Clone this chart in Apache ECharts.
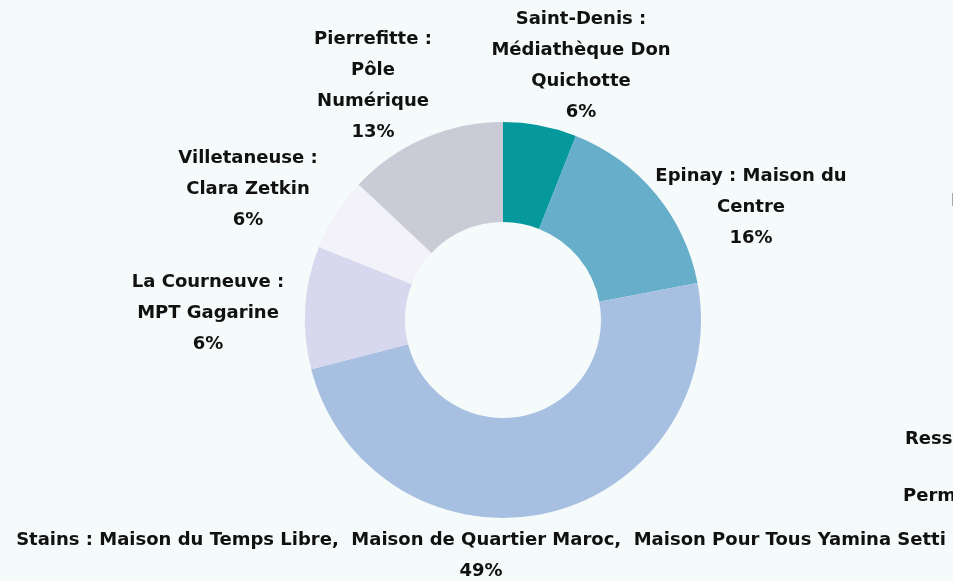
<!DOCTYPE html>
<html><head><meta charset="utf-8">
<script src="https://cdn.jsdelivr.net/npm/echarts@6/dist/echarts.min.js"></script>
<style>html,body{margin:0;padding:0;background:#f5fafa;}#c{width:953px;height:581px;}</style>
</head><body><div id="c"></div>
<script>
const categories = [
  "Saint-Denis :\nMédiathèque Don\nQuichotte",
  "Epinay : Maison du\nCentre",
  "Stains : Maison du Temps Libre,  Maison de Quartier Maroc,  Maison Pour Tous Yamina Setti",
  "La Courneuve :\nMPT Gagarine",
  "Villetaneuse :\nClara Zetkin",
  "Pierrefitte :\nPôle\nNumérique"
];
const values = [6, 16, 49, 10, 6, 13];
const percentLabels = ["6%", "16%", "49%", "6%", "6%", "13%"];
const clippedLabels = ["M", "Ressources", "Permanences"];

const colors = ["#05989d", "#66aec9", "#a7c0e1", "#d7d7ee", "#f4f2f9", "#c9ccd6"];
// label block centres (layout, px)
const labelPos = [[581, 66], [751, 207], [481, 556], [208, 313], [248, 189], [373, 86]];
const FONT = 'DejaVu Sans';

const chart = echarts.init(document.getElementById('c'));
chart.setOption({
  backgroundColor: '#f5fafa',
  animation: false,
  graphic: [
    { type: 'text', left: 951, top: 192, style: { text: clippedLabels[0], font: 'bold 18px ' + FONT, fill: '#111' } },
    { type: 'text', left: 905, top: 430, style: { text: clippedLabels[1], font: 'bold 18px ' + FONT, fill: '#111' } },
    { type: 'text', left: 903, top: 487, style: { text: clippedLabels[2], font: 'bold 18px ' + FONT, fill: '#111' } }
  ],
  series: [{
    type: 'pie',
    center: [503, 320],
    radius: [98, 198],
    startAngle: 90,
    clockwise: true,
    avoidLabelOverlap: false,
    data: categories.map((n, i) => ({ name: n, value: values[i], itemStyle: { color: colors[i] } })),
    label: {
      show: true,
      position: 'outside',
      formatter: p => p.name + '\n' + percentLabels[p.dataIndex],
      fontFamily: FONT,
      fontWeight: 'bold',
      fontSize: 18,
      lineHeight: 31,
      color: '#111',
      overflow: 'none'
    },
    labelLine: { show: false },
    labelLayout: p => ({ x: labelPos[p.dataIndex][0], y: labelPos[p.dataIndex][1], align: 'center', verticalAlign: 'middle' })
  }]
});
</script></body></html>
